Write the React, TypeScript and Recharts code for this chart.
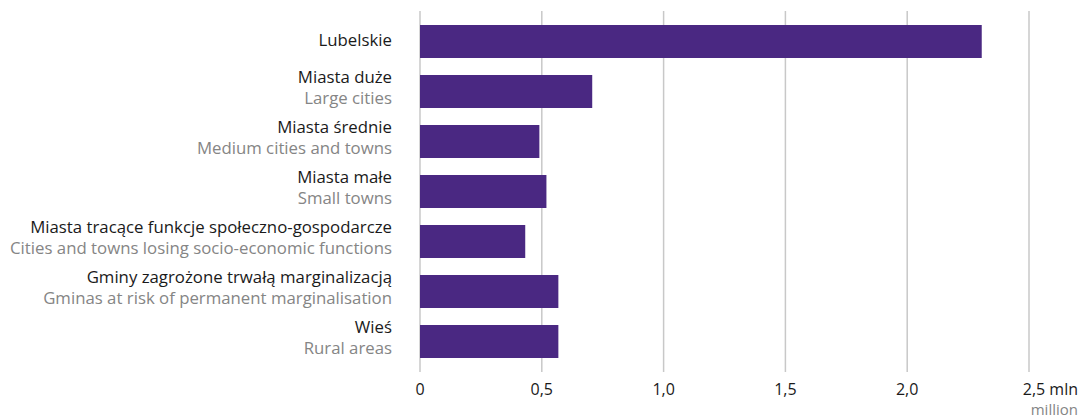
import { BarChart, Bar, XAxis, YAxis, CartesianGrid } from "recharts";

const REGIONS_PL = [
  "Lubelskie",
  "Miasta duże",
  "Miasta średnie",
  "Miasta małe",
  "Miasta tracące funkcje społeczno-gospodarcze",
  "Gminy zagrożone trwałą marginalizacją",
  "Wieś",
];

const REGIONS_EN = [
  "",
  "Large cities",
  "Medium cities and towns",
  "Small towns",
  "Cities and towns losing socio-economic functions",
  "Gminas at risk of permanent marginalisation",
  "Rural areas",
];

// population, million
const VALUES = [2.306, 0.707, 0.49, 0.519, 0.432, 0.568, 0.568];

const X_TICKS = [0, 0.5, 1, 1.5, 2, 2.5];

const FONT = "'Open Sans', sans-serif";
const DARK = "#1a1a1a";
const GREY = "#858585";
const LABEL_SIZE = 16.8;

const data = REGIONS_PL.map((name, i) => ({
  name,
  en: REGIONS_EN[i],
  value: VALUES[i],
}));

function RegionTick(props: any) {
  const { x, y, payload } = props;
  const en = REGIONS_EN[payload.index];
  if (!en) {
    return (
      <text x={x} y={y + 5} textAnchor="end" fill={DARK} fontSize={LABEL_SIZE} fontFamily={FONT}>
        {payload.value}
      </text>
    );
  }
  return (
    <g>
      <text x={x} y={y - 8.5} textAnchor="end" fill={DARK} fontSize={LABEL_SIZE} fontFamily={FONT}>
        {payload.value}
      </text>
      <text x={x} y={y + 12.5} textAnchor="end" fill={GREY} fontSize={LABEL_SIZE} fontFamily={FONT}>
        {en}
      </text>
    </g>
  );
}

function ValueTick(props: any) {
  const { x, y, payload } = props;
  const label = payload.value.toFixed(1).replace(".", ",");
  if (payload.value === 2.5) {
    return (
      <g>
        <text x={x + 49} y={y} textAnchor="end" fill={DARK} fontSize={16} fontFamily={FONT}>
          {label + " mln"}
        </text>
        <text x={x + 49} y={y + 20} textAnchor="end" fill={GREY} fontSize={15} fontFamily={FONT}>
          million
        </text>
      </g>
    );
  }
  return (
    <text x={x} y={y} textAnchor="middle" fill={DARK} fontSize={16} fontFamily={FONT}>
      {payload.value === 0 ? "0" : label}
    </text>
  );
}

export default function App() {
  return (
    <div style={{ position: "absolute", left: 0, top: 0, width: 1078, height: 419, background: "#fff" }}>
      <BarChart
        width={1078}
        height={419}
        data={data}
        layout="vertical"
        margin={{ top: 11, right: 49, bottom: 0, left: 0 }}
      >
        <CartesianGrid horizontal={false} stroke="#c8c8c8" strokeWidth={1.5} />
        <XAxis
          type="number"
          domain={[0, 2.5]}
          ticks={X_TICKS}
          axisLine={false}
          tickLine={false}
          tickSize={0}
          tickMargin={23}
          height={47}
          tick={ValueTick}
          interval={0}
        />
        <YAxis
          type="category"
          dataKey="name"
          width={420}
          axisLine={false}
          tickLine={false}
          tickSize={0}
          tickMargin={28}
          padding={{ top: 5, bottom: 6 }}
          tick={RegionTick}
          interval={0}
        />
        <Bar dataKey="value" fill="#4a2882" barSize={33} isAnimationActive={false} />
      </BarChart>
    </div>
  );
}
